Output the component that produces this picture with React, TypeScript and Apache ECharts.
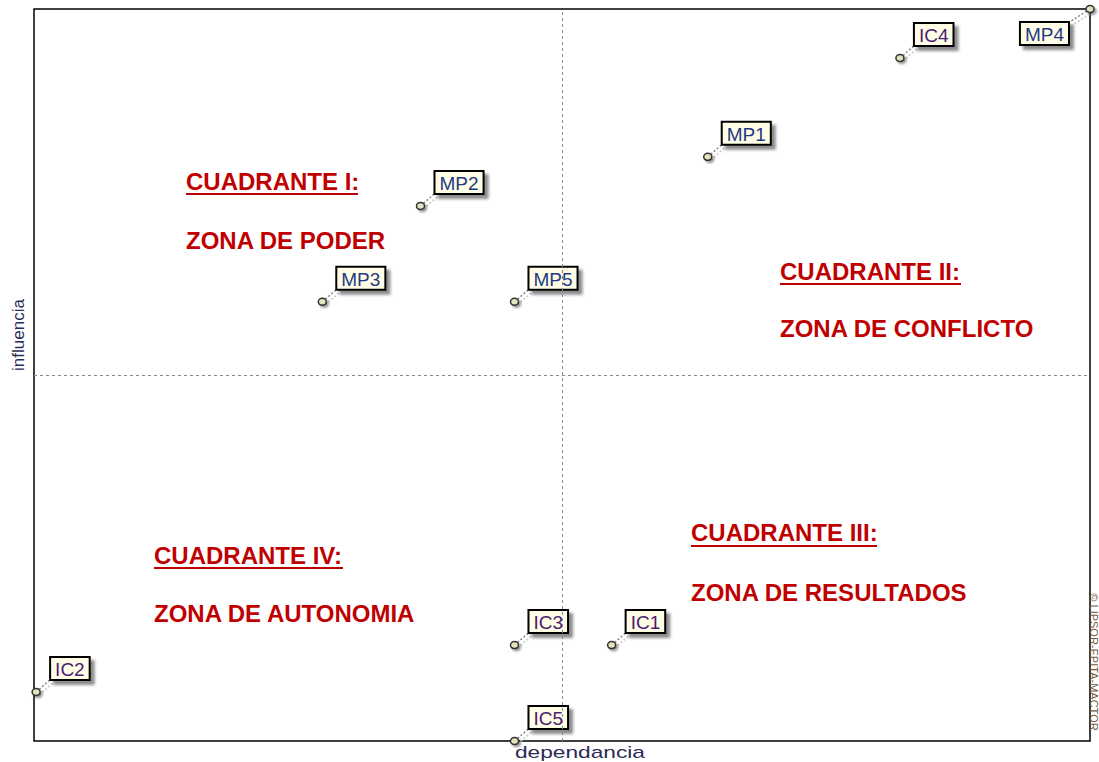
import React, { useEffect, useRef } from "react";
import * as echarts from "echarts";

const actors = ["MP1", "MP2", "MP3", "MP4", "MP5", "IC1", "IC2", "IC3", "IC4", "IC5"];
const dependancia = [63.8, 36.6, 27.3, 100, 45.5, 54.7, 0.2, 45.5, 82.0, 45.5];
const influencia = [79.8, 73.1, 60.0, 100, 60.0, 13.1, 6.7, 13.1, 93.3, 0];

const quadrantTitles = ["CUADRANTE I:", "CUADRANTE II:", "CUADRANTE III:", "CUADRANTE IV:"];
const quadrantZones = ["ZONA DE PODER", "ZONA DE CONFLICTO", "ZONA DE RESULTADOS", "ZONA DE AUTONOMIA"];

const RED = "#c00000";
const GRID = { left: 34, top: 9, width: 1056, height: 732 };

export default function App() {
  const ref = useRef<HTMLDivElement>(null);
  useEffect(() => {
    document.body.style.margin = "0";
    const chart = echarts.init(ref.current!, null, { renderer: "svg" });

    const titlePos = [
      { x: 186, y: 181, ux2: 358, uy: 194, zy: 240 },
      { x: 780, y: 271, ux2: 961, uy: 284, zy: 328 },
      { x: 691, y: 532, ux2: 877, uy: 546, zy: 592 },
      { x: 154, y: 555, ux2: 343, uy: 568, zy: 613 },
    ];
    const font = "bold 24px 'Liberation Sans', Arial, sans-serif";
    const graphics: any[] = [];
    titlePos.forEach((p, i) => {
      graphics.push({
        type: "text",
        x: p.x,
        y: p.y,
        style: { text: quadrantTitles[i], fill: RED, font, textVerticalAlign: "middle" },
      });
      graphics.push({
        type: "line",
        shape: { x1: p.x, y1: p.uy, x2: p.ux2, y2: p.uy },
        style: { stroke: RED, lineWidth: 2 },
      });
      graphics.push({
        type: "text",
        x: p.x,
        y: p.zy,
        style: { text: quadrantZones[i], fill: RED, font, textVerticalAlign: "middle" },
      });
    });
    graphics.push({
      type: "text",
      x: 515,
      y: 752,
      scaleX: 1.42,
      style: { text: "dependancia", fill: "#2b2b55", font: "16px 'Liberation Sans', Arial, sans-serif", textVerticalAlign: "middle" },
    });
    graphics.push({
      type: "text",
      x: 18,
      y: 335,
      rotation: Math.PI / 2,
      style: { text: "influencia", fill: "#2b2b55", font: "17px 'Liberation Sans', Arial, sans-serif", textAlign: "center", textVerticalAlign: "middle" },
    });
    graphics.push({
      type: "text",
      x: 1094,
      y: 662,
      rotation: -Math.PI / 2,
      style: { text: "© LIPSOR-EPITA-MACTOR", fill: "#7a5a3a", font: "11px 'Liberation Sans', Arial, sans-serif", textAlign: "center", textVerticalAlign: "middle" },
    });

    const data = actors.map((a, i) => [dependancia[i], influencia[i]]);

    chart.setOption({
      animation: false,
      backgroundColor: "#ffffff",
      grid: { ...GRID, show: true, borderColor: "#000", borderWidth: 1.5, backgroundColor: "transparent" },
      xAxis: {
        type: "value", min: 0, max: 100, interval: 50,
        axisLine: { show: false }, axisTick: { show: false }, axisLabel: { show: false }, splitLine: { show: false },
      },
      yAxis: {
        type: "value", min: 0, max: 100, interval: 50,
        axisLine: { show: false }, axisTick: { show: false }, axisLabel: { show: false }, splitLine: { show: false },
      },
      graphic: graphics,
      series: [
        {
          type: "custom",
          clip: false,
          data,
          markLine: {
            silent: true,
            symbol: "none",
            label: { show: false },
            lineStyle: { color: "#888", type: [3, 3], width: 1 },
            data: [{ xAxis: 50 }, { yAxis: 50 }],
          },
          renderItem: (params: any, api: any) => {
            const pt = api.coord([api.value(0), api.value(1)]);
            const x = pt[0], y = pt[1];
            const name = actors[params.dataIndex];
            const flip = x > GRID.left + GRID.width - 60;
            const cx = flip ? x - 22 : x + 15;
            const cy = flip ? y + 14 : y - 13;
            const color = name.startsWith("IC") ? "#4a2070" : "#1f3a85";
            return {
              type: "group",
              children: [
                {
                  type: "line",
                  shape: { x1: x + 3, y1: y + 3, x2: cx + 3, y2: cy + 3 },
                  style: { stroke: "#d0d0d0", lineWidth: 2, lineDash: [2, 2] },
                },
                {
                  type: "line",
                  shape: { x1: x, y1: y, x2: cx, y2: cy },
                  style: { stroke: "#888", lineWidth: 1.5, lineDash: [2, 2] },
                },
                {
                  type: "ellipse",
                  shape: { cx: x, cy: y, rx: 4, ry: 3.5 },
                  style: { fill: "#e6e2c0", stroke: "#333", lineWidth: 1.5, shadowColor: "rgba(0,0,0,0.4)", shadowOffsetX: 2, shadowOffsetY: 2, shadowBlur: 2 },
                },
                {
                  type: "text",
                  x: cx,
                  y: cy,
                  style: {
                    text: name,
                    fill: color,
                    font: "19px 'Liberation Sans', Arial, sans-serif",
                    align: flip ? "right" : "left",
                    verticalAlign: flip ? "top" : "bottom",
                    lineHeight: 19,
                    padding: [2, 4, 0, 4],
                    backgroundColor: "#fffde6",
                    borderColor: "#000",
                    borderWidth: 2,
                    shadowColor: "rgba(0,0,0,0.45)",
                    shadowOffsetX: 4,
                    shadowOffsetY: 4,
                    shadowBlur: 3,
                  },
                },
              ],
            };
          },
        },
      ],
    });
    return () => chart.dispose();
  }, []);
  return <div ref={ref} style={{ width: 1099, height: 762 }} />;
}
